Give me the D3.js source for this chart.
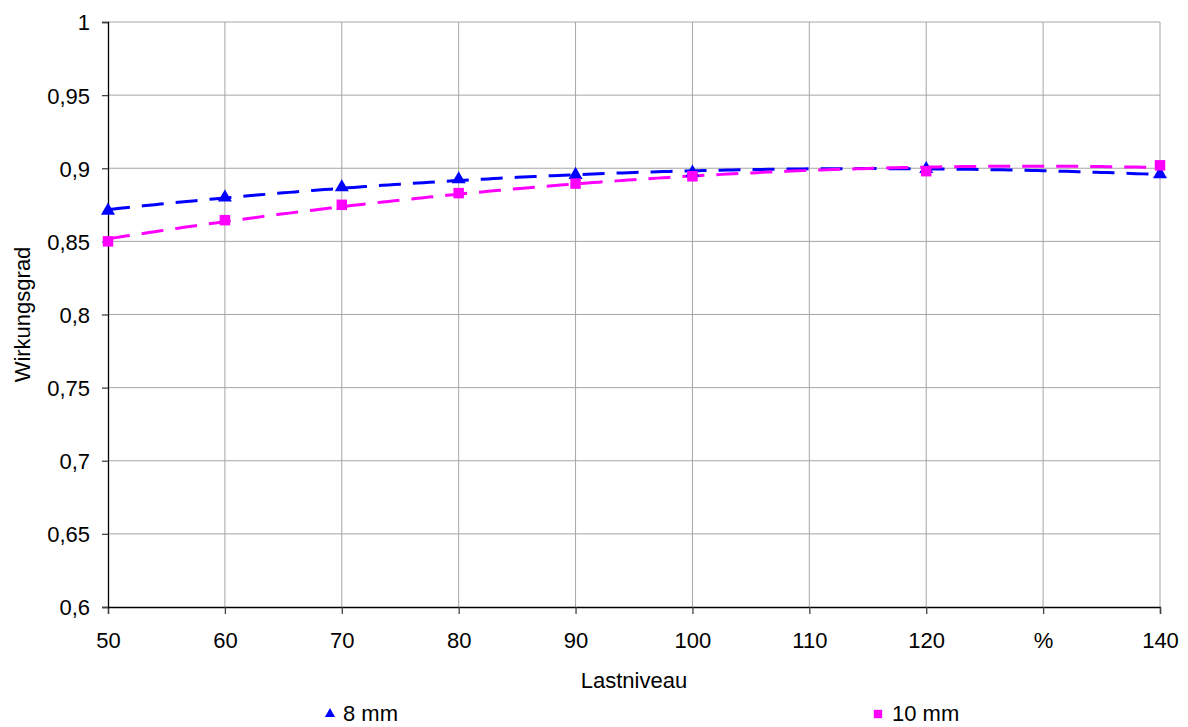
<!DOCTYPE html>
<html>
<head>
<meta charset="utf-8">
<script src="https://cdn.jsdelivr.net/npm/d3@7"></script>
<style>
  body { margin: 0; background: #fff; }
  svg text { font-family: "Liberation Sans", Arial, sans-serif; fill: #000; }
</style>
</head>
<body>
<svg id="chart" width="1188" height="727"></svg>
<script>
// Load levels (%) and efficiency measurements
const lastniveau = [50, 60, 70, 80, 90, 100, 120, 140];
const wirkungsgrad8mm  = [0.871, 0.880, 0.887, 0.8925, 0.8955, 0.897, 0.8995, 0.896];
const wirkungsgrad10mm = [0.850, 0.8645, 0.875, 0.883, 0.8895, 0.8945, 0.898, 0.902];

const xTicks = [50, 60, 70, 80, 90, 100, 110, 120, 130, 140];
const xTickLabels = ["50", "60", "70", "80", "90", "100", "110", "120", "%", "140"];
const yTicks = [0.6, 0.65, 0.7, 0.75, 0.8, 0.85, 0.9, 0.95, 1];
const yTickLabels = ["0,6", "0,65", "0,7", "0,75", "0,8", "0,85", "0,9", "0,95", "1"];

const seriesNames = ["8 mm", "10 mm"];
const seriesColors = ["#0000ff", "#ff00ff"];

const svg = d3.select("#chart");
const plot = { left: 108, right: 1160, top: 22, bottom: 607 };
const fontSize = 22;

const x = d3.scaleLinear().domain([50, 140]).range([plot.left, plot.right]);
const y = d3.scaleLinear().domain([0.6, 1]).range([plot.bottom, plot.top]);

// Grid lines
svg.append("g").selectAll("line").data(xTicks.slice(1)).join("line")
  .attr("x1", d => x(d)).attr("x2", d => x(d))
  .attr("y1", plot.top).attr("y2", plot.bottom)
  .attr("stroke", "#a6a6a6").attr("stroke-width", 1);
svg.append("g").selectAll("line").data(yTicks.slice(1)).join("line")
  .attr("x1", plot.left).attr("x2", plot.right)
  .attr("y1", d => y(d)).attr("y2", d => y(d))
  .attr("stroke", "#a6a6a6").attr("stroke-width", 1);

// Axes
const xAxis = d3.axisBottom(x).tickValues(xTicks)
  .tickFormat((d, i) => xTickLabels[i]).tickSize(7).tickPadding(18);
const yAxis = d3.axisLeft(y).tickValues(yTicks)
  .tickFormat((d, i) => yTickLabels[i]).tickSize(6).tickPadding(12);

const gx = svg.append("g").attr("transform", `translate(0,${plot.bottom})`).call(xAxis);
const gy = svg.append("g").attr("transform", `translate(${plot.left},0)`).call(yAxis);
[gx, gy].forEach(g => {
  g.select(".domain").attr("stroke", "#000").attr("stroke-width", 1.3);
  g.selectAll(".tick line").attr("stroke", "#444").attr("stroke-width", 1.3);
  g.selectAll(".tick text").attr("font-size", fontSize)
    .attr("font-family", "'Liberation Sans', Arial, sans-serif").attr("fill", "#000");
});
gy.selectAll(".tick text").attr("dy", "0.36em");

// Axis titles
svg.append("text").attr("x", (plot.left + plot.right) / 2).attr("y", 688)
  .attr("text-anchor", "middle").attr("font-size", fontSize).text("Lastniveau");
svg.append("text").attr("transform", `translate(30,${(plot.top + plot.bottom) / 2}) rotate(-90)`)
  .attr("text-anchor", "middle").attr("font-size", fontSize).text("Wirkungsgrad");

// Second-order polynomial least-squares fit (trend line)
function polyFit2(xs, ys) {
  const n = xs.length;
  const s = [0, 0, 0, 0, 0], t = [0, 0, 0];
  for (let i = 0; i < n; i++) {
    const xi = xs[i];
    for (let k = 0; k <= 4; k++) s[k] += Math.pow(xi, k);
    for (let k = 0; k <= 2; k++) t[k] += ys[i] * Math.pow(xi, k);
  }
  const M = [[s[0], s[1], s[2], t[0]], [s[1], s[2], s[3], t[1]], [s[2], s[3], s[4], t[2]]];
  for (let c = 0; c < 3; c++) {
    let p = c;
    for (let r = c + 1; r < 3; r++) if (Math.abs(M[r][c]) > Math.abs(M[p][c])) p = r;
    [M[c], M[p]] = [M[p], M[c]];
    for (let r = 0; r < 3; r++) {
      if (r === c) continue;
      const f = M[r][c] / M[c][c];
      for (let k = c; k < 4; k++) M[r][k] -= f * M[c][k];
    }
  }
  const a = M.map((row, i) => row[3] / row[i]);
  return xv => a[0] + a[1] * xv + a[2] * xv * xv;
}

const seriesData = [wirkungsgrad8mm, wirkungsgrad10mm];
const line = d3.line().x(d => x(d[0])).y(d => y(d[1]));
const domainSteps = d3.range(50, 140.01, 0.5);

seriesData.forEach((vals, si) => {
  const f = polyFit2(lastniveau, vals);
  svg.append("path")
    .datum(domainSteps.map(v => [v, f(v)]))
    .attr("d", line)
    .attr("fill", "none")
    .attr("stroke", seriesColors[si])
    .attr("stroke-width", 3)
    .attr("stroke-dasharray", "22,12");
});

// Markers
const tri = d3.symbol().type(d3.symbolTriangle).size(85);
const sq = d3.symbol().type(d3.symbolSquare).size(110);

svg.append("g").selectAll("path").data(lastniveau.map((v, i) => [v, wirkungsgrad8mm[i]])).join("path")
  .attr("d", tri).attr("fill", seriesColors[0])
  .attr("transform", d => `translate(${x(d[0])},${y(d[1])})`);
svg.append("g").selectAll("path").data(lastniveau.map((v, i) => [v, wirkungsgrad10mm[i]])).join("path")
  .attr("d", sq).attr("fill", seriesColors[1])
  .attr("transform", d => `translate(${x(d[0])},${y(d[1])})`);

// Legend
const legend = [
  { sym: d3.symbol().type(d3.symbolTriangle).size(45), cx: 330, tx: 343 },
  { sym: d3.symbol().type(d3.symbolSquare).size(70), cx: 878, tx: 892 }
];
legend.forEach((l, i) => {
  svg.append("path").attr("d", l.sym).attr("fill", seriesColors[i])
    .attr("transform", `translate(${l.cx},714)`);
  svg.append("text").attr("x", l.tx).attr("y", 721).attr("font-size", fontSize).text(seriesNames[i]);
});
</script>
</body>
</html>
